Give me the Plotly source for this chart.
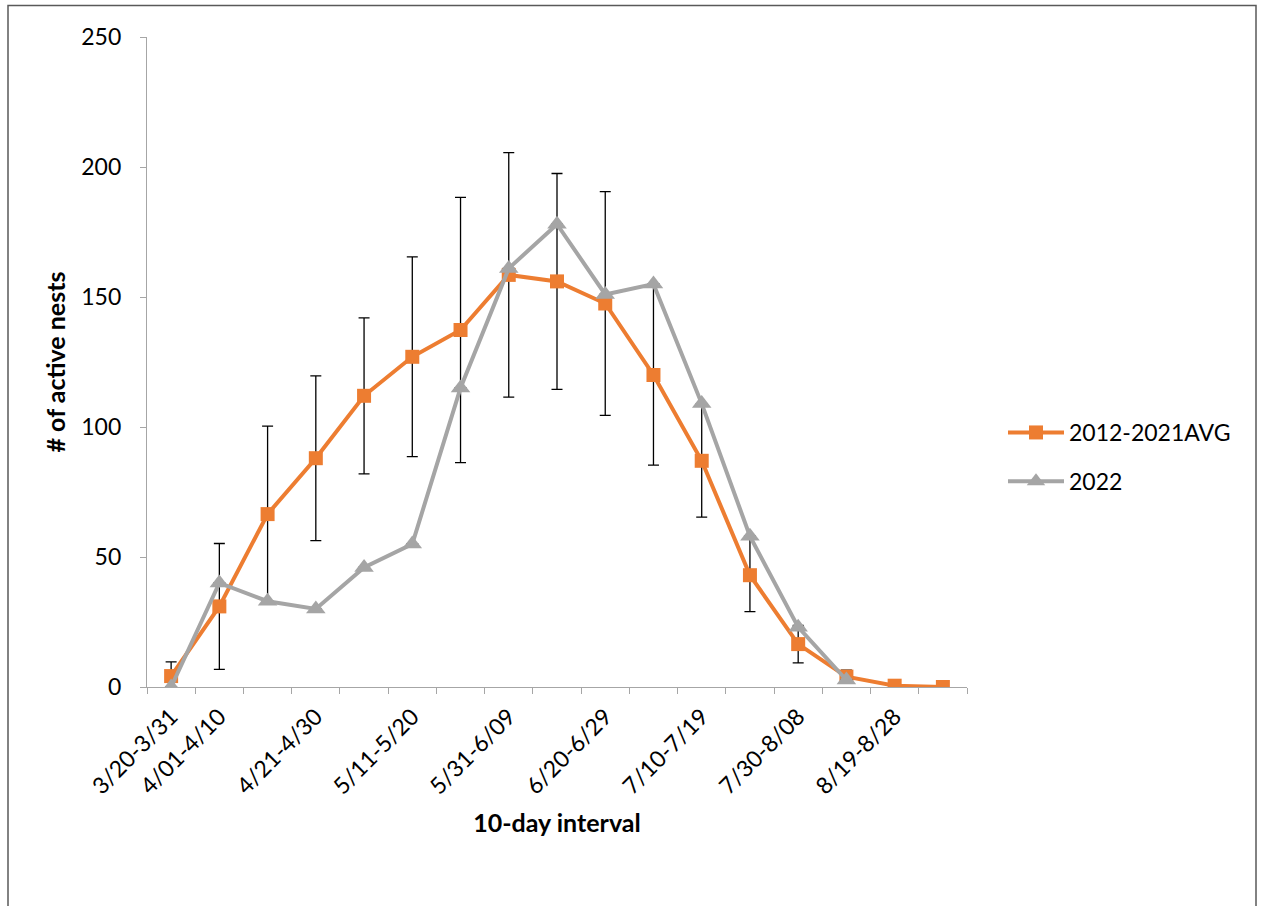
import plotly.graph_objects as go

categories = ["3/20-3/31", "4/01-4/10", "4/11-4/20", "4/21-4/30", "5/01-5/10",
              "5/11-5/20", "5/21-5/30", "5/31-6/09", "6/10-6/19", "6/20-6/29",
              "6/30-7/09", "7/10-7/19", "7/20-7/29", "7/30-8/08", "8/09-8/18",
              "8/19-8/28", "8/29-9/07"]
shown_labels = ["3/20-3/31", "4/01-4/10", "4/21-4/30", "5/11-5/20", "5/31-6/09",
                "6/20-6/29", "7/10-7/19", "7/30-8/08", "8/19-8/28"]

avg_2012_2021 = [4.2, 31, 66.5, 88, 112, 127, 137.3, 158.5, 156, 147.5,
                 120, 87, 43, 16.5, 4, 0.5, 0]
avg_error = [5.5, 24.2, 33.8, 31.7, 30, 38.4, 51, 47, 41.5, 43,
             34.7, 21.7, 14, 7.2, 2.5, 0, 0]
nests_2022 = [0, 40, 33, 30, 46, 55, 115, 161, 178, 151, 155, 109, 58, 23, 2.7,
              None, None]
err_2022 = [0] * 15 + [None, None]

ORANGE = "#ED7D31"
GRAY = "#A5A5A5"
AXIS = "#A6A6A6"
FONT = "Lato"

fig = go.Figure()
fig.add_trace(go.Scatter(
    x=categories, y=avg_2012_2021, name="2012-2021AVG", mode="lines+markers",
    line=dict(color=ORANGE, width=4),
    marker=dict(symbol="square", size=14, color=ORANGE),
    error_y=dict(type="data", array=avg_error, visible=True, color="black",
                 thickness=1.3, width=5.5),
    legendgroup="a",
))
fig.add_trace(go.Scatter(
    x=categories, y=nests_2022, name="2022", mode="lines+markers",
    line=dict(color=GRAY, width=4),
    marker=dict(symbol="triangle-up", size=17, color=GRAY),
    error_y=dict(type="data", array=err_2022, visible=True, color="black",
                 thickness=1.3, width=6),
    legendgroup="b",
))

ticktext = [c if c in shown_labels else "" for c in categories]

W, H = 1262, 906
L, R, T, B = 147, 967, 37, 687
pw, ph = R - L, B - T

def px_x(px):
    return (px - L) / pw

def px_y(py):
    return (B - py) / ph

fig.update_layout(
    width=W, height=H,
    margin=dict(l=L, r=W - R, t=T, b=H - B),
    paper_bgcolor="white", plot_bgcolor="white",
    font=dict(family=FONT, size=23, color="black"),
    showlegend=True,
    legend=dict(x=px_x(1003), y=px_y(457), xanchor="left", yanchor="middle",
                font=dict(family=FONT, size=23), tracegroupgap=16,
                itemwidth=56, bgcolor="rgba(0,0,0,0)"),
    xaxis=dict(
        type="category", categoryorder="array", categoryarray=categories,
        range=[-0.5, 16.5], tickson="boundaries",
        tickvals=categories, ticktext=ticktext, tickangle=-45,
        ticks="outside", ticklen=6, tickcolor=AXIS, tickwidth=1.3,
        showline=True, linecolor=AXIS, linewidth=1.3,
        showgrid=False, zeroline=False,
        tickfont=dict(family=FONT, size=23),
        ticklabelstandoff=6,
        title=dict(text="<b>10-day interval</b>", standoff=16,
                   font=dict(family=FONT, size=25)),
    ),
    yaxis=dict(
        range=[0, 250], tick0=0, dtick=50,
        ticks="outside", ticklen=6, tickcolor=AXIS, tickwidth=1.3,
        showline=True, linecolor=AXIS, linewidth=1.3,
        showgrid=False, zeroline=False,
        tickfont=dict(family=FONT, size=23),
        ticklabelstandoff=14,
        title=dict(text="<b># of active nests</b>", standoff=8,
                   font=dict(family=FONT, size=25)),
    ),
    shapes=[dict(type="rect", xref="paper", yref="paper",
                 x0=px_x(8), x1=px_x(1256), y0=px_y(940), y1=px_y(5.5),
                 line=dict(color="#595959", width=1.5), layer="below")],
)

fig.write_html("out.html", config={"displayModeBar": False},
               post_script="document.body.style.margin='0';")
